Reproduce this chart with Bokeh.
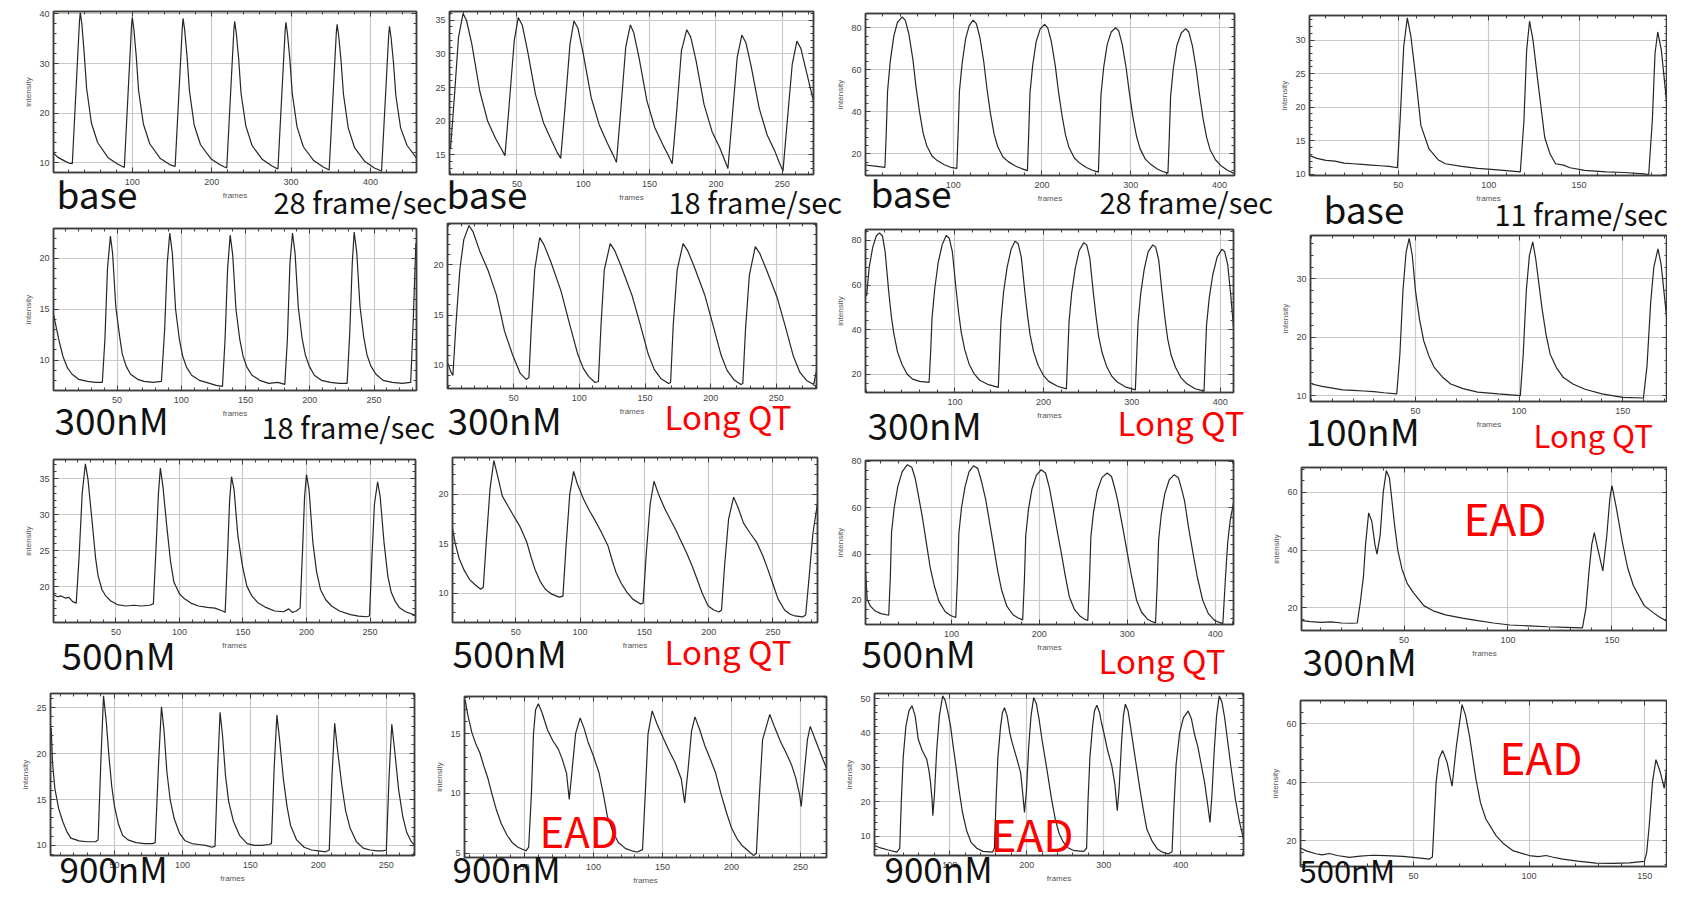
from bokeh.plotting import figure
from bokeh.models import Range1d, Label, LinearAxis, FixedTicker, Column
from bokeh.embed import file_html
from bokeh.resources import INLINE

# ---------------- data (frames, intensity) ----------------
P11 = [(0,12.1),(6,11.1),(14,10.4),(20,9.9),
       (24.5,9.8),(33.5,38.5),(34.5,40.3),(36.5,38.0),(39.5,32.0),(42.5,25.0),(48.5,18.0),(56.5,14.0),(69.5,11.0),(81.5,9.7),
       (90,9.0),(99,37.5),(100,39.3),(102,37.0),(105,31.5),(108,24.5),(114,17.8),(122,13.8),(135,10.9),(147,9.6),
       (154,9.2),(163,37.2),(164,39.1),(166,36.8),(169,31.5),(172,24.5),(178,17.6),(186,13.6),(199,10.8),(211,9.5),
       (219,8.9),(228,36.8),(229,38.5),(231,36.2),(234,31.0),(237,24.0),(243,17.4),(251,13.4),(264,10.6),(276,9.3),
       (283.5,8.7),(292.5,36.5),(293.5,38.3),(295.5,36.0),(298.5,30.8),(301.5,24.0),(307.5,17.2),(315.5,13.2),(328.5,10.4),(340.5,9.1),
       (348,8.5),(357,36.2),(358,37.9),(360,35.6),(363,30.5),(366,23.8),(372,17.0),(380,13.0),(393,10.2),(405,8.9),
       (414,8.3),(423,35.8),(424,37.5),(426,35.2),(429,30.2),(432,23.5),(438,17.0),(446,13.5),(458,10.9)]
P12 = [(0,16.0),(3,24.0),(6,32.5),(9.4,36.0),(12,35.0),(16,31.5),(22,24.5),(28,20.0),(34,17.4),(38,16.0),
       (41,14.9),(44,22.0),(48,32.0),(51,35.4),(54,34.3),(58,30.5),(64,24.0),(70,19.8),(76,17.2),(80,15.5),
       (83,14.5),(86,21.5),(90,31.5),(93,34.9),(96,33.8),(100,30.0),(106,23.5),(112,19.5),(118,16.8),(122,15.2),
       (125,13.9),(128,21.0),(132,31.0),(135.5,34.3),(138,33.2),(142,29.5),(148,23.0),(154,19.0),(160,16.5),(164,15.0),
       (167,13.7),(170,20.5),(174,30.5),(178,33.6),(181,32.5),(185,29.0),(191,22.5),(197,18.5),(203,16.0),(206,14.5),
       (209,13.0),(212,20.0),(216,29.5),(219.5,32.8),(222.5,31.7),(226.5,28.2),(232.5,22.0),(238.5,18.0),(244.5,15.5),(247.5,14.0),
       (250.5,12.6),(253.5,19.5),(257.5,28.5),(261,31.9),(264,30.8),(268,27.5),(273.5,23.0)]
P13 = [(1,14.7),(12,14.2),(23,13.6),(24.5,30),(26,50),(29,64),(33,76),(37,82.5),(42.4,85.2),(46,83.5),(50,77),(54.5,65),(58,52),(62,40),(66,30),(70,24),(76,19),(82,16.8),(90,14.8),(97,13.6),(104,13.1),
       (105.5,30),(107,50),(110,63),(114,75),(118,81),(122.4,83.6),(126,82),(130,75.5),(134.5,63.5),(138,51),(142,39),(146,29.5),(150,23.5),(156,18.5),(162,16.3),(170,14.2),(177,13.0),(183.6,12.0),
       (185,29),(186.5,49),(189.5,62),(193.5,73.5),(198,79.5),(203,81.6),(206.5,80),(210.5,73.5),(215,62),(218.5,50),(222.5,38.5),(226.5,29),(230.5,23),(236.5,18),(242.5,15.6),(250,13.5),(257,12.2),(263.6,11.3),
       (265,28.5),(266.5,48),(269.5,61),(273.5,72),(278,78),(283,80),(286.5,78.5),(290.5,72),(295,60.5),(298.5,49),(302.5,37.5),(306.5,28.5),(310.5,22.5),(316.5,17.5),(322.5,15),(330,12.8),(336,11.6),(342,10.8),
       (343.5,28),(345,47.5),(348,60.5),(352,71.5),(357,77.5),(362,79.6),(365.5,78),(369.5,71.5),(374,60),(377.5,48.5),(381.5,37),(385.5,28),(389.5,22),(395.5,17.2),(401.5,14.5),(409,12.2),(417,10.6)]
P14 = [(1,12.8),(5,12.4),(10,12.1),(15,12.0),(20,11.7),(25,11.6),(30,11.5),(35,11.4),(40,11.3),(45,11.2),(49.5,11.0),
       (51,18),(53,29),(55,33.3),(57,30.5),(59.5,24.8),(62.5,17.3),(67,13.8),(72,12.2),(76,11.6),(85,11.2),(94,10.9),(105,10.7),(117.5,10.4),
       (119.5,18),(121,28.5),(122.6,32.8),(124.5,30),(127,24.3),(131,15.5),(134,13),(137,11.6),(141.4,11.4),(145,11.0),(153,10.6),(165,10.4),(175,10.3),(186,10.1),(188.5,10.0),
       (190.5,18),(192,28),(193.5,31.2),(195.5,28.5),(198.9,19.5)]
P21 = [(0.5,14.5),(3,13.0),(5,11.8),(8,10.3),(11.5,9.2),(15,8.6),(20,8.1),(27,7.9),(33,7.8),(38.5,7.8),
       (40.5,12),(42.5,19),(44.8,22.2),(46.5,20.5),(49,15.2),(52,12.3),(54,10.6),(57,9.4),(60.5,8.6),(66,8.1),(71,7.9),(78,7.8),(84.5,7.9),
       (87,13),(89,19.5),(91,22.5),(93,20.5),(95.5,15.0),(98.5,12.0),(101,10.4),(104,9.3),(108,8.5),(114,8.0),(122,7.7),(127,7.5),(132,7.4),
       (134,12),(136,19),(138,22.3),(140,20.3),(142.5,15.0),(145.5,12.0),(148,10.4),(151,9.3),(155,8.5),(161,8.0),(168,7.7),(175,7.8),(180.5,7.6),
       (182.5,12),(184.5,19.5),(186.5,22.5),(188.5,20.5),(191,15.2),(194,12.1),(196.5,10.5),(199.5,9.4),(203.5,8.5),(209,8.0),(216,7.8),(223,7.7),(229,7.7),
       (231,12.5),(233,19.5),(234.5,22.6),(236.5,20.6),(239,15.3),(242,12.2),(244.5,10.5),(247.5,9.4),(251.5,8.6),(257,8.0),(264,7.8),(272,7.7),(278.5,7.8),
       (280.5,14),(282.5,21.5)]
P22 = [(0,10.2),(2,9.4),(3.7,9.0),(6,14),(9,19.5),(12,22.5),(16,23.9),(19,23.3),(24,21.4),(30.6,19.4),(36.8,17.0),(40,15.2),(43,13.4),(49,11.1),(55,9.2),(59.5,8.6),
       (61.6,8.8),(63.5,14),(66,19.5),(69.8,22.7),(73,22.0),(78,20.4),(86,17.4),(92.6,14.1),(98.8,11.1),(103,9.7),(107,8.9),(112,8.3),
       (114.5,8.4),(116.5,14),(119,19.5),(123.5,22.1),(127,21.4),(132,19.8),(140,17.0),(146.5,14.0),(152.5,11.1),(157,9.6),(162,8.7),(168,8.2),
       (169.5,8.3),(171.5,14),(174.5,19.5),(179,22.1),(182.5,21.4),(187.5,19.8),(195.5,17.0),(202,13.9),(208,11.0),(212.5,9.5),(217.5,8.6),(223,8.1),
       (224.5,8.2),(226.5,13.5),(229.5,19),(234,21.8),(237.5,21.1),(242.5,19.5),(250.5,16.8),(257,13.8),(263,10.9),(268,9.3),(273,8.5),(278.5,8.1),(280.6,9.5)]
P23 = [(0,55),(3,68),(7,77),(11,82),(14.6,83.4),(18,82),(21,75),(25,57.3),(28,46),(31,37.9),(35,30),(40,24.5),(46,20),(52,17.8),(60,16.8),(70.7,16.3),
       (72.5,30),(74,45),(77,58),(81,70),(85.5,78),(90,82.2),(93.5,81),(97,75),(101,59),(104,48),(107,39),(111,31),(116,24.5),(122,20),(128,17.3),(138,15.3),(149,14.1),
       (150.5,29),(152,44),(155,57),(159,68),(163.5,76),(168,79.7),(171.5,78.5),(175,72.5),(179,57),(182,46.5),(185,37.5),(189,30),(194,24),(200,19.5),(206,16.8),(216,14.6),(226,13.4),
       (227.5,28.5),(229,43.5),(232,56.5),(236,67.5),(240.5,75.5),(245.7,79),(249,78),(252.5,72),(256.5,56.5),(259.5,46),(262.5,37),(266.5,29.5),(271.5,23.5),(277.5,19),(283.5,16.5),(293.5,14.2),(304,13),
       (305.5,28),(307,43),(310,56),(314,67),(318.5,75),(323.8,78),(327,77),(330.5,71),(334.5,55.5),(337.5,45),(340.5,36),(344.5,28.5),(349.5,23),(355.5,18.5),(361.5,16),(371.5,13.5),(381.7,12.4),
       (383,27),(384.5,42),(387.5,54),(391.5,64.5),(396.5,72.5),(401.8,76),(405,75),(408.5,69),(412,55),(415,41)]
P24 = [(0,12.0),(5,11.6),(10,11.3),(15,11.0),(20,10.9),(25,10.8),(30,10.7),(35,10.5),(41,10.3),
       (42.5,17),(44,28),(45.5,34.5),(47,36.9),(48.5,34),(50,28),(52,23),(54,19.4),(56.5,16.8),(59,14.9),(63,13.2),(67,12.0),(73,11.2),(80,10.6),(90,10.3),(100.6,10.0),
       (102,17),(103.5,28),(105,34),(106.6,36.3),(108,33.5),(111,25.1),(113,20.5),(115,17.1),(118,14.8),(121.4,13.1),(126,12.0),(131.8,11.1),(140,10.3),(150,9.7),(160,9.6),
       (161.7,15),(163.5,26),(165,32),(167,35.1),(168.5,32.5),(171.6,22)]
P31 = [(1,18.9),(4,18.6),(7,18.7),(10,18.4),(13,18.5),(16,17.9),(18.8,17.7),
       (21,24),(23.5,33),(26,37.1),(28,35),(31.6,28.5),(34,24),(36,21.5),(39,19.6),(42,18.7),(46,18.0),(51,17.5),(58,17.3),(64,17.4),(70,17.3),(76.5,17.4),
       (79.5,17.6),(81.5,25),(83.5,33),(85,36.5),(87,34),(90,28.5),(93,23.5),(95.7,20.6),(100,19.0),(104,18.3),(109,17.7),(115,17.3),(122,17.1),(128,17.0),(134,16.6),
       (136,16.4),(138,25),(139.5,32),(141,35.3),(143,33.5),(146,27.1),(149.5,23),(153,20.1),(157,18.7),(161.5,17.8),(168,17.1),(175,16.6),(182,16.5),(186,16.9),(189,16.4),(192,16.6),
       (195,17.0),(197,25.5),(198.5,32.5),(200,35.6),(202,33.5),(205,26.2),(208,22),(211,19.6),(215,18.2),(219.7,17.3),(226,16.6),(234.6,16.1),(241,15.9),(247.4,15.8),
       (249.6,15.9),(251.5,24),(253.5,31.5),(256,34.6),(258,32.5),(261,26.2),(264,21.5),(266.7,19.2),(270,17.9),(273,17.1),(278,16.5),(285.8,16.0)]
P32 = [(0.9,16.5),(3,15.0),(6,13.5),(10,12.3),(14,11.4),(18,10.9),(22.7,10.4),
       (24.8,10.6),(27,15),(30,20.5),(33,23.4),(36,21.8),(39.6,19.8),(44,18.8),(48,17.9),(53,16.8),(58.5,15.2),(62,13.6),(65,12.4),(69,11.2),(73,10.4),(78,9.9),(83.8,9.6),
       (86.7,9.7),(89,14.5),(92,20),(95,22.3),(98,21.0),(102.7,19.5),(107,18.4),(111,17.5),(116,16.3),(121.7,14.8),(125,13.3),(128,12.1),(132,11.0),(136.4,10.1),(141,9.4),(147,8.9),
       (149,9.0),(151.5,14),(154.5,19),(157.5,21.3),(161,20.0),(166,18.5),(170,17.5),(174,16.5),(178,15.4),(182.7,14.1),(187,12.8),(191,11.4),(195,10.0),(199.6,8.7),(204,8.3),(208,8.1),
       (210,8.3),(212.5,13),(215.5,17.5),(219.4,19.7),(223,18.6),(227,17.1),(232,16.1),(237.5,15.1),(242,13.8),(246,12.4),(250,10.9),(254,9.4),(259,8.3),(263,7.9),(267,7.7),(273,7.6),
       (275.4,7.8),(278,11.5),(281,16),(284.6,19.1)]
P33 = [(2.4,33),(4.3,20.4),(8,17.5),(13.5,15.4),(20,14.3),(28.8,13.6),
       (30.6,30),(32,49.4),(35,60),(39,69),(44,75.5),(50,78.6),(55,77.5),(59,72.5),(62,66.4),(67,56),(71.6,44.7),(76,34),(80.8,26),(86,19.5),(93,15.1),(99,13.5),(105,12.6),
       (107,30),(108.5,49),(111.5,60),(115.5,69),(120,75.5),(125,78.1),(130,77),(134.5,71),(139,63.5),(143.5,53.5),(148,43.3),(152.5,33),(157,24.6),(163,17.5),(170,13.8),(176,12.4),(181,11.6),
       (183,29),(184.5,48),(187.5,59),(191.5,68),(196.5,74),(202,76.4),(207,75),(211.5,68.5),(216,59.1),(220.5,49.5),(225,40.3),(229.5,30.5),(234,21.6),(240,16),(246,13.3),(251,12),(255,11.3),
       (257,29),(258.5,47.5),(261.5,58),(265.5,67),(271,73),(277,75),(282,73.5),(286,68),(289,63),(294.5,52),(300,40.3),(305,30),(310.5,20),(316,15),(322.6,12),(327,11),(332,10.3),
       (334,28),(335.5,46),(338.5,57),(342.5,66),(347.5,72),(353,74.2),(358,73),(362,67.5),(365,63),(369.5,51.5),(374.6,40.3),(379.5,30),(385.6,20.1),(392,14.3),(399,11.4),(404,10.6),(408.5,10.0),
       (411.5,30),(414,45),(417,55),(420.6,62)]
P34 = [(0.7,15.6),(5,15.3),(10,15.0),(15,15.2),(20,14.8),(25,14.7),(27.5,14.8),
       (29,22),(30.5,31),(31.5,42),(33,52.9),(34.5,50),(36,42),(37,38.6),(38.5,45),(40,60),(41.5,67.5),(43,65),(45.5,48.5),(47,40),(49,33.5),(51.5,28.5),(54.4,25.4),(59.5,20.8),(64,19),(70,17.6),(78,16.5),(85.4,15.6),(93,14.8),(101,14.1),(110,13.8),(119,13.5),(128,13.3),(135.8,13.1),
       (137.5,20),(139,33),(140.3,42),(141.5,46.1),(143,41),(145.6,32.8),(147.5,45),(149,58),(150,62.3),(152,55),(155,42.7),(157.5,34),(160.3,27.7),(165.5,20.8),(170,18.3),(173,16.8),(176.7,15.3)]
P41 = [(3.0,21.6),(3.5,22.8),(4.5,19),(6.2,16.2),(9,14),(12,12.6),(15,11.5),(18,10.8),(24,10.5),(30,10.4),(36,10.4),
       (38,10.6),(40,19),(42,26.3),(44,23.5),(46,19.7),(48,16.5),(50,14.3),(53,12.3),(56,11.1),(60,10.6),(66,10.3),(72,10.2),(78,10.2),
       (80,10.3),(82.5,19),(84.6,25.1),(86.5,22.5),(88.6,18.0),(91,15),(94,12.9),(98,11.3),(102,10.5),(107,10.2),(112,10.1),(117,10.0),(121.7,9.8),
       (124,9.9),(126,18.5),(127.7,24.5),(129.5,22),(131.7,17.6),(134,14.8),(137.6,12.6),(142,11.1),(147.6,10.2),(153,10.0),(158,10.0),(163.6,10.1),
       (165.5,10.2),(167.5,18.5),(169.5,24.2),(171.5,21.5),(174.3,17.2),(177,14.2),(179.5,12.2),(184,10.6),(189.5,9.8),(195,9.5),(200,9.4),(205.4,9.3),
       (208,9.5),(210,17.5),(212,23.3),(214,20.5),(217.3,16.5),(220,13.8),(223.3,11.9),(228,10.4),(233,9.7),(238,9.5),(243,9.4),(247,9.4),
       (250,9.5),(252,17.5),(254,23.2),(256,20.5),(259,16.1),(262,13.2),(265,11.4),(268,10.5),(270.7,10.0)]
P42 = [(6.5,17.5),(7,17.8),(9,16.5),(11.8,15.1),(14.5,14.2),(17.6,13.4),(20.5,12.3),(23.6,11.2),(26.5,9.9),(29.4,8.7),(33,7.5),(37.3,6.5),(41,5.9),(45.2,5.5),(51,5.2),
       (53,5.5),(55,10),(56.5,15),(58,17.0),(60,17.5),(62.5,16.8),(66.7,15.3),(70.5,14.4),(74.5,13.7),(77.5,12.8),(80.4,11.7),(82.4,9.5),(84.5,12),(87,15),(90.3,16.3),(93,15.5),(96,14.3),(100,13.1),(104,11.7),(107,10.0),(110,8.1),(114,6.8),(118,5.9),(123,5.4),(127.6,5.2),(131.6,5.1),
       (135.5,5.3),(137.5,10),(139.5,15),(142.5,16.9),(146,15.8),(151,14.5),(155,13.5),(159,12.6),(163.6,11.2),(166,9.2),(168.5,12),(171,15.2),(173.5,16.4),(177,15.3),(180.6,14.0),(184.5,12.9),(188.5,11.7),(192,10.1),(196.3,8.4),(200,7.1),(204,6.2),(208,5.6),(212,5.2),(216,4.8),
       (218,5.0),(220,9.5),(222.5,14.5),(227.7,16.6),(231,15.6),(235.6,14.3),(239.5,13.4),(243.4,12.4),(246.5,11.3),(249.3,9.9),(250.5,8.9),(252.5,11.5),(255,14.5),(257,15.6),(260,14.7),(263,13.8),(266,12.9),(268.8,12.1)]
P43 = [(2.2,7.3),(10,6.6),(20,6.0),(31,5.4),
       (35,6.5),(37,20),(39.5,33),(43,42),(47,46.5),(51,47.9),(55,45),(59,38.2),(64,35),(70,32.4),(73,29),(75,25.6),(77,20.5),(78,16),(80,22),(83,35),(86.5,45),(90.7,50.8),(94,49.5),(98,45.5),(101,42),(104.5,36),(108,30.4),(112,23.5),(116.5,16.9),(122,11.5),(127.7,8.2),(135,6.5),(143,5.6),(155.6,5.4),
       (158,6.5),(160,20),(162.5,33),(166,42),(168.5,46),(171,47.4),(174.5,45),(178,40),(181,37.2),(186.5,33),(192,28.5),(194.5,23),(197,16.9),(199.5,23),(202.5,36),(205.5,45),(209,50.3),(212.5,48.5),(216,44),(219.7,38.2),(223.5,33),(226.8,28.5),(232,21),(237,15),(242,10.8),(247.7,8.2),(254,6.6),(261.7,5.8),(274,5.6),
       (277.7,6.5),(279.5,20),(282,33),(285.5,42),(288,46.5),(291,48.1),(294.5,46),(297,43),(300,40.2),(305,35),(310.5,30.4),(314.5,25),(317.5,17.4),(320,24),(323,37),(325.5,45),(328,48.4),(331.5,46.5),(335,41.5),(338.5,36.2),(343,29.5),(347,23.6),(351.5,17.5),(356,12),(363,8.5),(370,6.2),(377,5.3),(384,4.9),
       (388.7,5.5),(391,18),(394,31),(398.5,40),(403.5,44.5),(409.6,46.4),(414,44),(418,39.5),(422,36.2),(426.5,31),(431,25.6),(434.5,20),(438,14),(440.5,22),(443.5,35),(446.5,45),(450,50.8),(453.5,49),(457,44.5),(460.6,38.2),(465,30.5),(471,20.7),(476,14.5),(481.5,9.2)]
P44 = [(1.2,17.6),(4,16.5),(7.9,15.6),(10.5,15.2),(13.7,15.7),(17,15.0),(22.3,14.4),(27,14.8),(32.4,15.1),(38,15.0),(45.4,14.7),(51,14.3),(56.9,13.8),
       (58.2,14.5),(59.8,40),(61,48),(62.6,50.9),(64.5,47),(66.7,38.7),(68.5,52),(71,66.6),(72.5,63),(74.2,56),(77,41.2),(79,33),(81.3,27.5),(85.7,21.8),(89,19),(92.9,16.7),(100,15.0),(104,14.6),(107.3,15.0),(110,14.5),(114.5,13.8),(121,13.1),(128.9,12.4),(136,12.3),(143.3,12.5),(149.8,13.0),
       (150.8,16),(151.9,25.2),(153.3,40),(154.8,47.8),(156.5,44),(158.4,38),(159.8,47)]

# tick values
X_TICKS_50 = [50, 100, 150, 200, 250]
X_TICKS_100 = [100, 200, 300, 400]
X_TICKS_COL4 = [50, 100, 150]
Y_TICKS_11 = [10, 20, 30, 40]
Y_TICKS_12 = [15, 20, 25, 30, 35]
Y_TICKS_80 = [20, 40, 60, 80]
Y_TICKS_14 = [10, 15, 20, 25, 30]
Y_TICKS_10_20 = [10, 15, 20]
Y_TICKS_24 = [10, 20, 30]
Y_TICKS_31 = [20, 25, 30, 35]
Y_TICKS_60 = [20, 40, 60]
Y_TICKS_41 = [10, 15, 20, 25]
Y_TICKS_42 = [5, 10, 15]
Y_TICKS_43 = [10, 20, 30, 40, 50]

# annotation texts
BASE, NM300, NM500, NM900, NM100 = "base", "300nM", "500nM", "900nM", "100nM"
RATE28, RATE18, RATE11 = "28 frame/sec", "18 frame/sec", "11 frame/sec"
LONGQT, EAD = "Long QT", "EAD"

# ---------------- layout / style ----------------
PAGE_W, PAGE_H = 1667, 892
ORG = 8
FRAME_COLOR = "#3d3d3d"
TICK_FONT = "Liberation Sans"
LABEL_FONT = "Noto Sans CJK JP"
RED = "#ff0000"
BLK = "#111111"
BASELINE_FIX = 0.28   # Label baseline correction (fraction of font size)
X_FIX = 5             # Label left-bearing correction (px)

PANELS = [
    dict(trace=P11, frame=(61.3, 19.3, 424.0, 180.0), xr=(0.8, 458), yr=(8.0, 40.5), xt=X_TICKS_100, yt=Y_TICKS_11, ylab=True, xlab=True),
    dict(trace=P12, frame=(457.0, 19.3, 821.3, 181.7), xr=(-0.8, 273.5), yr=(12.1, 36.3), xt=X_TICKS_50, yt=Y_TICKS_12, ylab=False, xlab=True),
    dict(trace=P13, frame=(873.3, 20.7, 1242.0, 183.3), xr=(1.1, 417), yr=(9.7, 86.8), xt=X_TICKS_100, yt=Y_TICKS_80, ylab=True, xlab=True),
    dict(trace=P14, frame=(1317.4, 22.7, 1675.0, 183.3), xr=(0.9, 198.9), yr=(9.85, 33.65), xt=X_TICKS_COL4, yt=Y_TICKS_14, ylab=True, xlab=True),
    dict(trace=P21, frame=(61.3, 235.7, 424.0, 397.7), xr=(0.5, 283), yr=(7.0, 22.95), xt=X_TICKS_50, yt=Y_TICKS_10_20, ylab=True, xlab=True),
    dict(trace=P22, frame=(455.4, 231.0, 824.0, 395.7), xr=(-0.4, 280.6), yr=(7.7, 24.1), xt=X_TICKS_50, yt=Y_TICKS_10_20, ylab=False, xlab=True),
    dict(trace=P23, frame=(873.3, 236.7, 1240.5, 400.0), xr=(-1.2, 415), yr=(11.8, 84.9), xt=X_TICKS_100, yt=Y_TICKS_80, ylab=True, xlab=True),
    dict(trace=P24, frame=(1318.5, 243.3, 1675.0, 409.0), xr=(-0.6, 171.6), yr=(9.0, 37.4), xt=X_TICKS_COL4, yt=Y_TICKS_24, ylab=True, xlab=True),
    dict(trace=P31, frame=(61.3, 467.3, 422.8, 630.0), xr=(0.9, 285.8), yr=(15.0, 37.7), xt=X_TICKS_50, yt=Y_TICKS_31, ylab=True, xlab=True),
    dict(trace=P32, frame=(459.7, 465.0, 825.0, 630.0), xr=(0.85, 284.6), yr=(7.04, 23.7), xt=X_TICKS_50, yt=Y_TICKS_10_20, ylab=False, xlab=True),
    dict(trace=P33, frame=(873.3, 468.3, 1240.5, 631.7), xr=(2.4, 420.6), yr=(9.6, 80.4), xt=X_TICKS_100, yt=Y_TICKS_80, ylab=True, xlab=True),
    dict(trace=P34, frame=(1308.8, 475.0, 1675.0, 638.3), xr=(0.7, 176.7), yr=(12.2, 68.6), xt=X_TICKS_COL4, yt=Y_TICKS_60, ylab=True, xlab=True),
    dict(trace=P41, frame=(58.0, 700.7, 422.3, 863.3), xr=(3.0, 270.7), yr=(8.9, 26.55), xt=X_TICKS_50, yt=Y_TICKS_41, ylab=True, xlab=True),
    dict(trace=P42, frame=(471.6, 704.0, 833.7, 865.0), xr=(6.5, 268.8), yr=(4.64, 18.1), xt=X_TICKS_50, yt=Y_TICKS_42, ylab=True, xlab=True),
    dict(trace=P43, frame=(882.0, 700.7, 1251.3, 863.3), xr=(2.2, 481.5), yr=(4.4, 51.5), xt=X_TICKS_100, yt=Y_TICKS_43, ylab=True, xlab=True),
    dict(trace=P44, frame=(1307.7, 708.3, 1675.0, 874.3), xr=(1.2, 159.8), yr=(11.25, 68.0), xt=X_TICKS_COL4, yt=Y_TICKS_60, ylab=True, xlab=False),
]

# page texts: (text, left x, baseline y, font px, colour) in page pixels
TEXTS = [
    (BASE, 59, 211, 37, BLK), (RATE28, 276, 217, 29, BLK),
    (BASE, 449, 211, 37, BLK), (RATE18, 671, 217, 29, BLK),
    (BASE, 873, 210, 37, BLK), (RATE28, 1102, 217, 29, BLK),
    (BASE, 1326, 226, 37, BLK), (RATE11, 1497, 229, 29, BLK),
    (NM300, 57, 437, 37, BLK), (RATE18, 264, 442, 29, BLK),
    (NM300, 450, 437, 37, BLK), (LONGQT, 667, 433, 33, RED),
    (NM300, 870, 442, 37, BLK), (LONGQT, 1120, 439, 33, RED),
    (NM100, 1308, 448, 37, BLK), (LONGQT, 1536, 451, 31, RED),
    (NM500, 64, 672, 37, BLK),
    (NM500, 455, 670, 37, BLK), (LONGQT, 667, 668, 33, RED),
    (NM500, 864, 670, 37, BLK), (LONGQT, 1101, 677, 33, RED),
    (NM300, 1305, 678, 37, BLK), (EAD, 1466, 537, 44, RED),
    (NM900, 62, 885, 35, BLK),
    (NM900, 455, 885, 35, BLK), (EAD, 542, 849, 42, RED),
    (NM900, 887, 885, 35, BLK), (EAD, 993, 853, 44, RED),
    (NM500, 1302, 886, 31, BLK), (EAD, 1502, 776, 44, RED),
]


def minor_of(major, lo, hi, n=5):
    step = (major[1] - major[0]) / n
    out = []
    k = int((lo - major[0]) // step) - 1
    while True:
        v = major[0] + k * step
        if v > hi:
            break
        if v >= lo and all(abs(v - m) > 1e-6 for m in major):
            out.append(round(v, 6))
        k += 1
    return out


def style_axis(ax, ticker, show_labels):
    ax.ticker = ticker
    ax.axis_line_color = FRAME_COLOR
    ax.axis_line_width = 1.5
    ax.major_tick_line_color = FRAME_COLOR
    ax.minor_tick_line_color = FRAME_COLOR
    ax.major_tick_line_width = 1
    ax.minor_tick_line_width = 1
    ax.major_tick_in = 5
    ax.major_tick_out = 0
    ax.minor_tick_in = 3
    ax.minor_tick_out = 0
    if show_labels:
        ax.major_label_text_font = TICK_FONT
        ax.major_label_text_font_size = "9px"
        ax.major_label_text_color = "#444444"
        ax.axis_label_text_font = TICK_FONT
        ax.axis_label_text_font_size = "8px"
        ax.axis_label_text_font_style = "normal"
        ax.axis_label_text_color = "#555555"
    else:
        ax.major_label_text_color = None
        ax.major_label_standoff = 0
        ax.axis_label = None


def make_panel(spec, idx):
    fl, ft, fr, fb = spec["frame"]
    p = figure(width=PAGE_W, height=PAGE_H, output_backend="svg", toolbar_location=None,
               x_range=Range1d(*spec["xr"]), y_range=Range1d(*spec["yr"]),
               min_border_left=int(round(fl - ORG)), min_border_top=int(round(ft - ORG)),
               min_border_right=int(round(ORG + PAGE_W - fr)),
               min_border_bottom=int(round(ORG + PAGE_H - fb)),
               background_fill_color=None, border_fill_color=None,
               outline_line_color=FRAME_COLOR, outline_line_width=1.5,
               frame_align=False,
               margin=(0 if idx == 0 else -PAGE_H, 0, 0, 0))
    xs = [pt[0] for pt in spec["trace"]]
    ys = [pt[1] for pt in spec["trace"]]
    p.line(xs, ys, line_color="#262626", line_width=1.2)

    xt = FixedTicker(ticks=spec["xt"], minor_ticks=minor_of(spec["xt"], *spec["xr"]))
    yt = FixedTicker(ticks=spec["yt"], minor_ticks=minor_of(spec["yt"], *spec["yr"]))

    xa = p.xaxis[0]
    style_axis(xa, xt, True)
    xa.major_label_standoff = 6
    xa.axis_label = "frames" if spec["xlab"] else None
    xa.axis_label_standoff = 3
    ya = p.yaxis[0]
    style_axis(ya, yt, True)
    ya.major_label_standoff = 4
    ya.axis_label = "intensity" if spec["ylab"] else None
    ya.axis_label_standoff = 3

    top = LinearAxis()
    style_axis(top, xt, False)
    p.add_layout(top, "above")
    right = LinearAxis()
    style_axis(right, yt, False)
    p.add_layout(right, "right")

    p.xgrid.grid_line_color = "#c9c9c9"
    p.ygrid.grid_line_color = "#c9c9c9"
    p.xgrid.grid_line_width = 1.2
    p.ygrid.grid_line_width = 1.2
    return p


def make_text_layer():
    t = figure(width=PAGE_W, height=PAGE_H, output_backend="svg", toolbar_location=None,
               x_range=Range1d(0, 1), y_range=Range1d(0, 1),
               x_axis_location=None, y_axis_location=None,
               min_border_left=0, min_border_right=0, min_border_top=0, min_border_bottom=0,
               background_fill_color=None, border_fill_color=None, outline_line_color=None,
               frame_align=False, margin=(-PAGE_H, 0, 0, 0))
    t.xgrid.visible = False
    t.ygrid.visible = False
    for text, tx, base, size, color in TEXTS:
        t.add_layout(Label(x=tx - ORG + X_FIX, y=(ORG + PAGE_H - base) + BASELINE_FIX * size,
                           x_units="screen", y_units="screen", text=text,
                           text_font=LABEL_FONT, text_font_size=f"{size}px", text_color=color,
                           text_align="left", text_baseline="alphabetic"))
    return t


figs = [make_panel(s, i) for i, s in enumerate(PANELS)]
figs.append(make_text_layer())
layout = Column(children=figs, spacing=0)

with open("out.html", "w") as fh:
    fh.write(file_html(layout, INLINE))
